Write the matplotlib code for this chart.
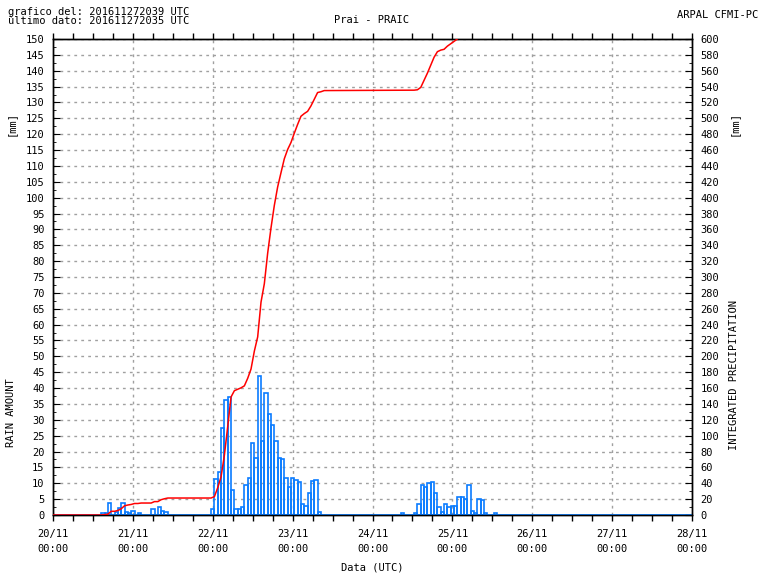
import matplotlib
matplotlib.use("Agg")
import matplotlib.pyplot as plt
from matplotlib.ticker import MultipleLocator

# hourly rain, bar centre in hours after 20/11 00:00 UTC
rain_hours = [15, 16, 17, 19, 20, 21, 22, 23, 24, 26, 30, 32, 33, 34,
              48, 49, 50, 51, 52, 53, 54, 55, 56, 57, 58, 59, 60, 61, 62, 63, 64,
              65, 66, 67, 68, 69, 70, 71, 72, 73, 74, 75, 76, 77, 78, 79, 80,
              105, 109, 110, 111, 112, 113, 114, 115, 116, 117, 118, 119, 120, 121,
              122, 123, 124, 125, 126, 127, 128, 129, 130, 133]
rain_mm = [0.5, 0.5, 3.7, 1.0, 2.2, 3.7, 1.0, 0.7, 1.2, 0.6, 1.8, 2.4, 1.2, 0.9,
           1.8, 11.3, 13.7, 27.3, 36.2, 37.1, 7.9, 1.8, 1.8, 2.5, 9.5, 11.7, 22.6, 17.9, 43.8, 23.3, 38.4,
           31.8, 28.4, 23.3, 17.9, 17.6, 11.7, 8.8, 11.7, 11.1, 10.3, 3.4, 2.8, 6.8, 10.6, 11.1, 1.1,
           0.6, 0.6, 3.4, 9.3, 8.7, 10.0, 10.3, 6.8, 2.4, 0.8, 3.4, 2.4, 2.7, 2.7,
           5.6, 5.6, 4.9, 9.3, 1.2, 0.6, 4.9, 4.6, 0.6, 0.6]

# integrated precipitation (right axis)
cum_hours = [0, 14.5, 15.5, 16.5, 17.5, 18.5, 19.5, 20.5, 21.5, 22.5, 23.5, 24.5, 25.5, 26.5,
             29.5, 30.5, 31.5, 32.5, 33.5, 34.5, 47.5, 48.5, 49.5, 50.5, 51.5, 52.5, 53.5,
             54.5, 55.5, 56.5, 57.5, 58.5, 59.5, 60.5, 61.5, 62.5, 63.5, 64.5, 65.5, 66.5,
             67.5, 68.5, 69.5, 70.5, 71.5, 72.5, 73.5, 74.5, 75.5, 76.5, 77.5, 78.5, 79.5,
             80.5, 81.5, 108.5, 109.5, 110.5, 111.5, 112.5, 113.5, 114.5, 115.5, 116.5, 117.5,
             118.5, 119.5, 120.5, 121.5, 122.5, 124.5, 126.5, 130.5, 164.5]
cum_mm = [0, 0, 0.5, 1.0, 4.7, 4.7, 5.7, 7.9, 11.6, 12.6, 13.3, 14.5, 14.5, 15.1,
          15.1, 16.9, 16.9, 19.3, 20.5, 21.4, 21.4, 23.2, 34.5, 48.2, 75.5, 111.7, 148.8,
          156.7, 158.5, 160.3, 162.8, 172.3, 184.0, 206.6, 224.5, 268.3, 291.6, 330.0, 361.8, 390.2,
          413.5, 431.4, 449.0, 460.7, 469.5, 481.2, 492.3, 502.6, 506.0, 508.8, 515.6, 524.0, 532.5,
          533.5, 535.0, 535.5, 536.0, 539.0, 548.0, 557.0, 567.0, 577.0, 584.0, 586.0, 587.0,
          591.0, 594.0, 597.0, 600.0, 605.5, 616.0, 627.0, 638.0, 639.0]

day_labels = ["20/11\n00:00", "21/11\n00:00", "22/11\n00:00", "23/11\n00:00", "24/11\n00:00",
              "25/11\n00:00", "26/11\n00:00", "27/11\n00:00", "28/11\n00:00"]

BLUE = "#0a7cff"
RED = "#ff0000"
GRID = "#a0a0a0"
FONT = "DejaVu Sans Mono"
FS = 7.5

plt.rcParams["font.family"] = FONT
plt.rcParams["font.size"] = FS

fig = plt.figure(figsize=(7.68, 5.76), dpi=100)
ax = fig.add_axes([53 / 768, 61 / 576, 639 / 768, 476 / 576])
ax2 = ax.twinx()

ax.bar(rain_hours, rain_mm, width=1.0, fill=False, edgecolor=BLUE, linewidth=1.2, zorder=3)
ax.axhline(0, color=BLUE, linewidth=2, zorder=3)
ax2.plot(cum_hours, cum_mm, color=RED, linewidth=1.1, zorder=4)

ax.set_xlim(0, 192)
ax.set_ylim(0, 150)
ax2.set_ylim(0, 600)

ax.set_xticks(range(0, 193, 24))
ax.set_xticklabels(day_labels, linespacing=1.6)
ax.xaxis.set_minor_locator(MultipleLocator(6))
ax.tick_params(axis="x", which="both", direction="out", length=4, width=1,
               top=True, bottom=True, pad=6)

ax.yaxis.set_major_locator(MultipleLocator(5))
ax.yaxis.set_minor_locator(MultipleLocator(2.5))
ax.tick_params(axis="y", which="major", direction="in", length=5, pad=6)
ax.tick_params(axis="y", which="minor", direction="in", length=2.5)

ax2.yaxis.set_major_locator(MultipleLocator(20))
ax2.yaxis.set_minor_locator(MultipleLocator(10))
ax2.tick_params(axis="y", which="major", direction="in", length=5, pad=6)
ax2.tick_params(axis="y", which="minor", direction="in", length=2.5)

ax.set_axisbelow(True)
ax.grid(True, which="major", color=GRID, linestyle=(0, (2, 3)), linewidth=1)

for spine in list(ax.spines.values()) + list(ax2.spines.values()):
    spine.set_linewidth(1)
    spine.set_color("black")

fig.text(8 / 768, 1 - 12 / 576, "grafico del: 201611272039 UTC", fontsize=FS, va="center")
fig.text(8 / 768, 1 - 21 / 576, "ùltimo dato: 201611272035 UTC", fontsize=FS, va="center")
fig.text(372 / 768, 1 - 20 / 576, "Prai - PRAIC", fontsize=FS, ha="center", va="center")
fig.text(758 / 768, 1 - 15 / 576, "ARPAL CFMI-PC", fontsize=FS, ha="right", va="center")
fig.text(11 / 768, 1 - 124 / 576, "[mm]", fontsize=FS, rotation=90, ha="center", va="center")
fig.text(734 / 768, 1 - 123 / 576, "[mm]", fontsize=FS, rotation=90, ha="center", va="center")
fig.text(11 / 768, 1 - 413 / 576, "RAIN AMOUNT", fontsize=FS, rotation=90, ha="center", va="center")
fig.text(734 / 768, 1 - 375 / 576, "INTEGRATED PRECIPITATION", fontsize=FS, rotation=90,
         ha="center", va="center")
fig.text(372 / 768, 1 - 567 / 576, "Data (UTC)", fontsize=FS, ha="center", va="center")

fig.savefig("out.png", dpi=100, facecolor="white")
